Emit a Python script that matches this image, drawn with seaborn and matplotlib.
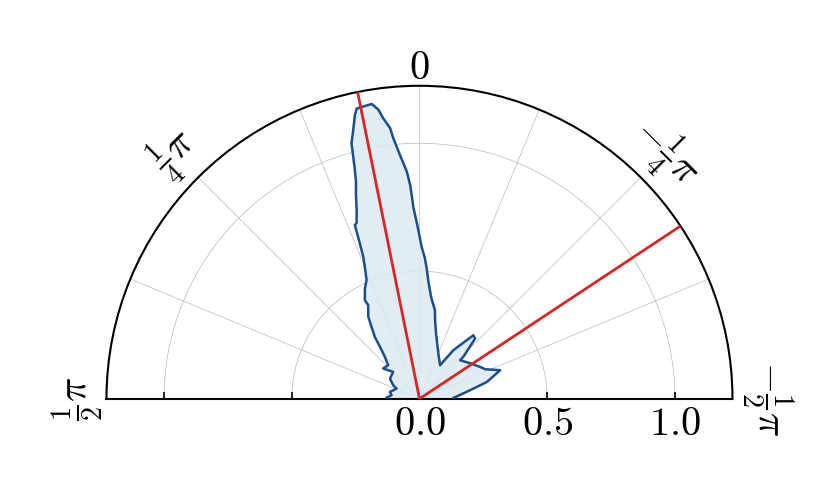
import numpy as np
import matplotlib.pyplot as plt
import seaborn as sns

# outline of the angular distribution (deg from north, ccw positive)
theta_deg = [-90, -89, -80.4, -76.0, -70.5, -65.8, -62.3, -54.9, -46.5, -46.3, -42.7, -40.3,
             -34.9, -31.5, -22.6, -14.2, -11.2, -9.9, -7.2, -6.4, -4.4, -3.3, -2.2, -0.8,
             0.4, 1.85, 2.2, 2.5, 3.2, 4.6, 5.75, 6.2, 7.4, 8.1, 9.2, 12.2, 12.8, 14.2,
             14.9, 15.3, 15.7, 16.3, 17.3, 18.4, 19.7, 20.4, 21.0, 21.6, 22.5, 24.0, 26.3,
             29.0, 28.7, 32.0, 32.8, 35.8, 37.3, 39.5, 43.0, 50.2, 44.4, 55.6, 62.7, 65.9,
             77.0, 82.8, 87.9, 90]
radius = [0.13, 0.131, 0.201, 0.272, 0.335, 0.282, 0.268, 0.242, 0.219, 0.237, 0.321, 0.326,
          0.232, 0.154, 0.192, 0.264, 0.314, 0.352, 0.389, 0.404, 0.458, 0.505, 0.551, 0.595,
          0.661, 0.752, 0.798, 0.838, 0.891, 0.958, 1.026, 1.066, 1.108, 1.143, 1.169, 1.162,
          1.140, 1.066, 1.035, 0.983, 0.938, 0.886, 0.836, 0.779, 0.730, 0.726, 0.652, 0.598,
          0.559, 0.509, 0.482, 0.441, 0.418, 0.378, 0.358, 0.299, 0.255, 0.213, 0.180, 0.185,
          0.147, 0.140, 0.116, 0.098, 0.119, 0.110, 0.129, 0.13]

# reference directions (deg)
ref_deg = [11.4, -56.5]

theta_ticks = [-90, -67.5, -45, -22.5, 0, 22.5, 45, 67.5, 90]
theta_labels = [r'$-\frac{1}{2}\pi$', '', r'$-\frac{1}{4}\pi$', '', r'$0$', '',
                r'$\frac{1}{4}\pi$', '', r'$\frac{1}{2}\pi$']
theta_pads = [18, 4, 17, 4, 6, 4, 17, 4, 14]
r_ticks = [0.0, 0.5, 1.0]
r_labels = [r'$0.0$', r'$0.5$', r'$1.0$']
r_max = 1.225

sns.set_style("white")
plt.rcParams['mathtext.fontset'] = 'cm'
plt.rcParams['font.family'] = ['DejaVu Sans']
plt.rcParams.update({'text.color': 'black', 'xtick.color': 'black', 'ytick.color': 'black'})

fig = plt.figure(figsize=(8.3, 4.98), dpi=100)
# square box; the half disc sits in its middle
ax = fig.add_axes([0.1283, -0.115, 0.7542, 1.257], projection='polar')
ax.set_theta_zero_location('N')
ax.set_thetamin(-90); ax.set_thetamax(90)
ax.set_rlim(0, r_max)

th = np.deg2rad(theta_deg)
ax.fill_between(th, 0, radius, color='#dce9f2', alpha=0.85, lw=0, zorder=1)
sns.lineplot(x=th, y=radius, sort=False, estimator=None, color='#1b4f8a', lw=1.8, ax=ax, zorder=3)
for d in ref_deg:
    ax.plot([np.deg2rad(d)] * 2, [0, r_max], color='#d62728', lw=2, zorder=4)

ax.set_xticks(np.deg2rad(theta_ticks))
ax.set_xticklabels(theta_labels)
ax.set_yticks(r_ticks)
ax.set_yticklabels(r_labels)
ax.set_rlabel_position(-90)
ax.grid(True, color='#b8b8b8', lw=0.5)
ax.tick_params(axis='x', direction='in', length=5, width=1.2, labelsize=29,
               labelrotation='auto', colors='black')
ax.tick_params(axis='y', direction='in', length=5, width=1.2, labelsize=29,
               left=True, right=True, colors='black')
for t, p in zip(ax.xaxis.get_major_ticks(), theta_pads):
    t.set_pad(p)
for s in ax.spines.values():
    s.set_color('black'); s.set_linewidth(1.5)

plt.savefig("out.png", dpi=100)
